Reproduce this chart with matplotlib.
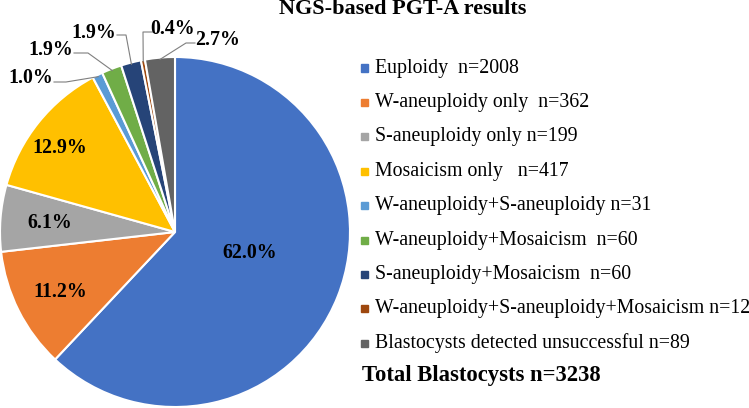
"""NGS-based PGT-A results: pie chart with side legend."""

import matplotlib.pyplot as plt
from matplotlib.patches import Rectangle
import numpy as np

plt.rcParams["font.family"] = ["Liberation Serif", "DejaVu Serif"]

# DATA
categories = [
    "Euploidy",
    "W-aneuploidy only",
    "S-aneuploidy only",
    "Mosaicism only",
    "W-aneuploidy+S-aneuploidy",
    "W-aneuploidy+Mosaicism",
    "S-aneuploidy+Mosaicism",
    "W-aneuploidy+S-aneuploidy+Mosaicism",
    "Blastocysts detected unsuccessful",
]
counts = [2008, 362, 199, 417, 31, 60, 60, 12, 89]
gaps = ["  ", "  ", " ", "   ", " ", "  ", "  ", " ", " "]
colors = ["#4472C4", "#ED7D31", "#A5A5A5", "#FFC000", "#5B9BD5",
          "#70AD47", "#264478", "#9E480E", "#636363"]
total = sum(counts)

W, H = 749, 408
CX, CY, R = 175, 232, 175  # pie centre / radius in pixels


def px(x, y):
    """Pixel position (from top-left) -> pie data coords."""
    return (x - CX) / R, (CY - y) / R


# label centres (pixels) and leader-line points (label side, elbow)
label_px = [(250, 253), (60, 292), (50, 223), (60, 148), (31, 78),
            (51, 50), (94, 33), (173, 29), (218, 40)]
leaders = {
    4: [(54, 82), (66, 82)],
    5: [(74, 53), (88, 53)],
    6: [(117, 35), (126, 35)],
    7: [(153, 32), (143, 32)],
    8: [(195, 43), (186, 43)],
}

fig = plt.figure(figsize=(W / 100, H / 100), dpi=100)
ax = fig.add_axes([(CX - R) / W, (H - CY - R) / H, 2 * R / W, 2 * R / H])
wedges, _ = ax.pie(counts, colors=colors, startangle=90, counterclock=False,
                   wedgeprops=dict(edgecolor="white", linewidth=1.5))
ax.set_xlim(-1, 1)
ax.set_ylim(-1, 1)
ax.set_aspect("equal")
ax.axis("off")

for i, (w, c) in enumerate(zip(wedges, counts)):
    pct = f"{100 * c / total:.1f}%"
    lx, ly = px(*label_px[i])
    ax.text(lx, ly, pct, ha="center", va="center", fontsize=14.3,
            fontweight="bold", clip_on=False)
    if i in leaders:
        mid = np.deg2rad((w.theta1 + w.theta2) / 2)
        pts = [px(*p) for p in leaders[i]] + [(np.cos(mid) * 0.99, np.sin(mid) * 0.99)]
        xs, ys = zip(*pts)
        ax.plot(xs, ys, color="#7f7f7f", lw=0.8, clip_on=False)

fig.text(403 / W, 1 - 9 / H, "NGS-based PGT-A results", ha="center", va="center",
         fontsize=16, fontweight="bold")

# legend
for i, (name, c, g) in enumerate(zip(categories, counts, gaps)):
    y = 68 + i * 34.4
    fig.add_artist(Rectangle((361 / W, 1 - (y + 3.5) / H), 7 / W, 7 / H,
                             transform=fig.transFigure, color=colors[i]))
    fig.text(375 / W, 1 - y / H, f"{name}{g}n={c}", ha="left", va="center",
             fontsize=14.3)

fig.text(362 / W, 1 - 375 / H, f"Total Blastocysts n={total}", ha="left",
         va="center", fontsize=16.3, fontweight="bold")

fig.savefig("out.png", dpi=100)
